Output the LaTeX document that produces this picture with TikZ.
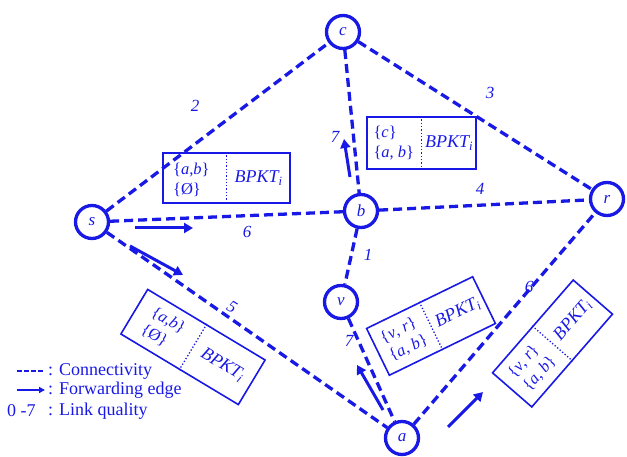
\documentclass[tikz,border=0pt]{standalone}
\usepackage{fontspec}
\setmainfont{Liberation Serif}
\usetikzlibrary{arrows.meta,calc}
\definecolor{bl}{RGB}{25,25,230}
\begin{document}
\begin{tikzpicture}[x=1pt,y=-1pt,
 vtx/.style={circle,draw=bl,line width=3.3pt,minimum size=33pt,inner sep=0pt,font=\fontsize{17}{17}\selectfont\itshape,text=bl,fill=white},
 conn/.style={draw=bl,line width=3.3pt,dash pattern=on 9pt off 5pt},
 fwd/.style={draw=bl,line width=3pt,-{Triangle[length=9pt,width=10pt]}},
 lq/.style={text=bl,font=\fontsize{17}{17}\selectfont\itshape,inner sep=0pt},
 pbox/.style={draw=bl,line width=1.6pt,inner sep=0pt},
 divl/.style={draw=bl,line width=1.3pt,dotted},
 settxt/.style={text=bl,font=\fontsize{16.5}{20}\selectfont,align=left,inner sep=0pt},
 bpkt/.style={text=bl,font=\fontsize{18}{18}\selectfont\itshape,inner sep=0pt},
 leg/.style={text=bl,font=\fontsize{18}{18}\selectfont,anchor=west,inner sep=0pt}]
\useasboundingbox (0,0) rectangle (627,457);

% vertices
\node[vtx] (c) at (343,32) {c};
\node[vtx] (s) at (92,222) {s};
\node[vtx] (b) at (361,211) {b};
\node[vtx] (r) at (607,199) {r};
\node[vtx] (v) at (341,302) {v};
\node[vtx] (a) at (402,438) {a};

% connectivity edges
\draw[conn] (s) -- (c);
\draw[conn] (c) -- (r);
\draw[conn] (c) -- (b);
\draw[conn] (s) -- (b);
\draw[conn] (b) -- (r);
\draw[conn] (b) -- (v);
\draw[conn] (s) -- (a);
\draw[conn] (v) -- (a);
\draw[conn] (a) -- (r);

% link quality labels
\node[lq] (n2) at (195,106) {2};
\node[lq] (n3) at (490,93) {3};
\node[lq] (n7a) at (335,137) {7};
\node[lq] (n4) at (480,189) {4};
\node[lq] (n6a) at (247,232) {6};
\node[lq] (n1) at (368,255) {1};
\node[lq,rotate=-31] (n5) at (232,307) {5};
\node[lq] (n7b) at (349,341) {7};
\node[lq] (n6b) at (529,287) {6};

% forwarding edges
\coordinate (f1a) at (135,228); \coordinate (f1b) at (193,228);
\draw[fwd] (f1a) -- (f1b);
\coordinate (f2a) at (130,246); \coordinate (f2b) at (183,275);
\draw[fwd] (f2a) -- (f2b);
\coordinate (f3a) at (350,177); \coordinate (f3b) at (344,139);
\draw[fwd] (f3a) -- (f3b);
\coordinate (f4a) at (383,410); \coordinate (f4b) at (357,365);
\draw[fwd] (f4a) -- (f4b);
\coordinate (f5a) at (448,427); \coordinate (f5b) at (483,392);
\draw[fwd] (f5a) -- (f5b);

% packet boxes
\node[pbox,minimum width=127pt,minimum height=50pt] (B1) at (226.5,178) {};
\draw[divl] (B1.north) -- (B1.south);
\node[settxt] (B1s) at ($(B1.center)!0.5!(B1.west)+(-3,2)$) {\{\textit{a},\textit{b}\}\\\{Ø\}};
\node[bpkt] (B1p) at ($(B1.center)!0.5!(B1.east)$) {BPKT\textsubscript{i}};

\node[pbox,minimum width=109pt,minimum height=52pt] (B2) at (421.5,143) {};
\draw[divl] (B2.north) -- (B2.south);
\node[settxt] (B2s) at ($(B2.center)!0.5!(B2.west)$) {\{\textit{c}\}\\\{\textit{a}, \textit{b}\}};
\node[bpkt] (B2p) at ($(B2.center)!0.5!(B2.east)$) {BPKT\textsubscript{i}};

\node[pbox,rotate=-31,minimum width=137pt,minimum height=52pt] (B3) at (193,347) {};
\draw[divl] (B3.north) -- (B3.south);
\node[settxt,rotate=-31] (B3s) at ($(B3.center)!0.5!(B3.west)$) {\{\textit{a},\textit{b}\}\\\{Ø\}};
\node[bpkt,rotate=-31] (B3p) at ($(B3.center)!0.5!(B3.east)$) {BPKT\textsubscript{i}};

\node[pbox,rotate=26,minimum width=118pt,minimum height=52pt] (B4) at (431,326) {};
\draw[divl] (B4.north) -- (B4.south);
\node[settxt,rotate=26] (B4s) at ($(B4.center)!0.5!(B4.west)$) {\{\textit{v}, \textit{r}\}\\\{\textit{a}, \textit{b}\}};
\node[bpkt,rotate=26] (B4p) at ($(B4.center)!0.5!(B4.east)$) {BPKT\textsubscript{i}};

\node[pbox,rotate=49,minimum width=123pt,minimum height=52pt] (B5) at (552.5,343.5) {};
\draw[divl] (B5.north) -- (B5.south);
\node[settxt,rotate=49] (B5s) at ($(B5.center)!0.5!(B5.west)$) {\{\textit{v}, \textit{r}\}\\\{\textit{a}, \textit{b}\}};
\node[bpkt,rotate=49] (B5p) at ($(B5.center)!0.5!(B5.east)$) {BPKT\textsubscript{i}};

% legend
\coordinate (la1) at (17,371); \coordinate (la2) at (43,371);
\draw[draw=bl,line width=2pt,dash pattern=on 4.5pt off 2.5pt] (la1) -- (la2);
\node[leg] (L1) at (48,371) {: Connectivity};
\coordinate (lb1) at (17,390); \coordinate (lb2) at (45,390);
\draw[draw=bl,line width=2pt,-{Triangle[length=6pt,width=6pt]}] (lb1) -- (lb2);
\node[leg] (L2) at (48,390) {: Forwarding edge};
\node[leg] (L3a) at (7,411) {0 -7};
\node[leg] (L3b) at (48,411) {: Link quality};
\end{tikzpicture}
\end{document}
